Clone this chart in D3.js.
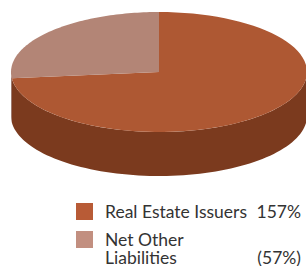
<!DOCTYPE html>
<html lang="en">
<head>
<meta charset="utf-8">
<title>Holdings</title>
<script src="https://d3js.org/d3.v7.min.js"></script>
<style>
  body { margin: 0; background: #fff; }
  text { font-family: Lato, "Open Sans", sans-serif; fill: #333; }
</style>
</head>
<body>
<div id="chart"></div>
<script>
// data
var categories = ["Real Estate Issuers", "Net Other Liabilities"];
var values = [157, -57];
var valueLabels = ["157%", "(57%)"];
var topColors = ["#ae5833", "#b38576"];
var sideColors = ["#7b3a1e", "#8a6054"];
var legendColors = ["#b85b36", "#c28f80"];

var W = 306, H = 266;
var cx = 159, cy = 72, rx = 148, ry = 60, depth = 44;

var svg = d3.select("#chart").append("svg")
  .attr("width", W).attr("height", H);

var pie = d3.pie().sort(null).value(function(d) { return Math.abs(d); });
var arcs = pie(values);

// point on the ellipse, angle clockwise from 12 o'clock
function pt(a, dy) {
  return [cx + rx * Math.sin(a), cy - ry * Math.cos(a) + (dy || 0)];
}

function topPath(d) {
  var p = d3.path(), n = 80;
  p.moveTo(cx, cy);
  for (var i = 0; i <= n; i++) {
    var a = d.startAngle + (d.endAngle - d.startAngle) * i / n;
    var q = pt(a);
    p.lineTo(q[0], q[1]);
  }
  p.closePath();
  return p.toString();
}

function sidePath(d) {
  // only the front half (90deg..270deg) is visible
  var a0 = Math.max(d.startAngle, Math.PI / 2);
  var a1 = Math.min(d.endAngle, Math.PI * 1.5);
  if (a1 <= a0) return null;
  var p = d3.path(), n = 80, i, a, q;
  for (i = 0; i <= n; i++) {
    a = a0 + (a1 - a0) * i / n;
    q = pt(a);
    if (i === 0) p.moveTo(q[0], q[1]); else p.lineTo(q[0], q[1]);
  }
  for (i = n; i >= 0; i--) {
    a = a0 + (a1 - a0) * i / n;
    q = pt(a, depth);
    p.lineTo(q[0], q[1]);
  }
  p.closePath();
  return p.toString();
}

var g = svg.append("g");

g.selectAll("path.side")
  .data(arcs.filter(function(d) { return sidePath(d); }))
  .enter().append("path")
    .attr("class", "side")
    .attr("d", sidePath)
    .attr("fill", function(d) { return sideColors[d.index]; });

g.selectAll("path.top")
  .data(arcs)
  .enter().append("path")
    .attr("class", "top")
    .attr("d", topPath)
    .attr("fill", function(d) { return topColors[d.index]; });

// legend
var legend = svg.append("g");
var ly = [203, 231];

legend.selectAll("rect")
  .data(categories)
  .enter().append("rect")
    .attr("x", 76)
    .attr("y", function(d, i) { return ly[i]; })
    .attr("width", 17)
    .attr("height", 17)
    .attr("fill", function(d, i) { return legendColors[i]; });

legend.append("text")
  .attr("x", 105).attr("y", 218)
  .attr("font-size", 17.5)
  .text(categories[0]);

legend.append("text")
  .attr("x", 105).attr("y", 246)
  .attr("font-size", 17.5)
  .text("Net Other");
legend.append("text")
  .attr("x", 105).attr("y", 264)
  .attr("font-size", 17.5)
  .text("Liabilities");

legend.selectAll("text.val")
  .data(valueLabels)
  .enter().append("text")
    .attr("class", "val")
    .attr("x", 301)
    .attr("y", function(d, i) { return i === 0 ? 218 : 264; })
    .attr("text-anchor", "end")
    .attr("font-size", 17.5)
    .text(function(d) { return d; });
</script>
</body>
</html>
